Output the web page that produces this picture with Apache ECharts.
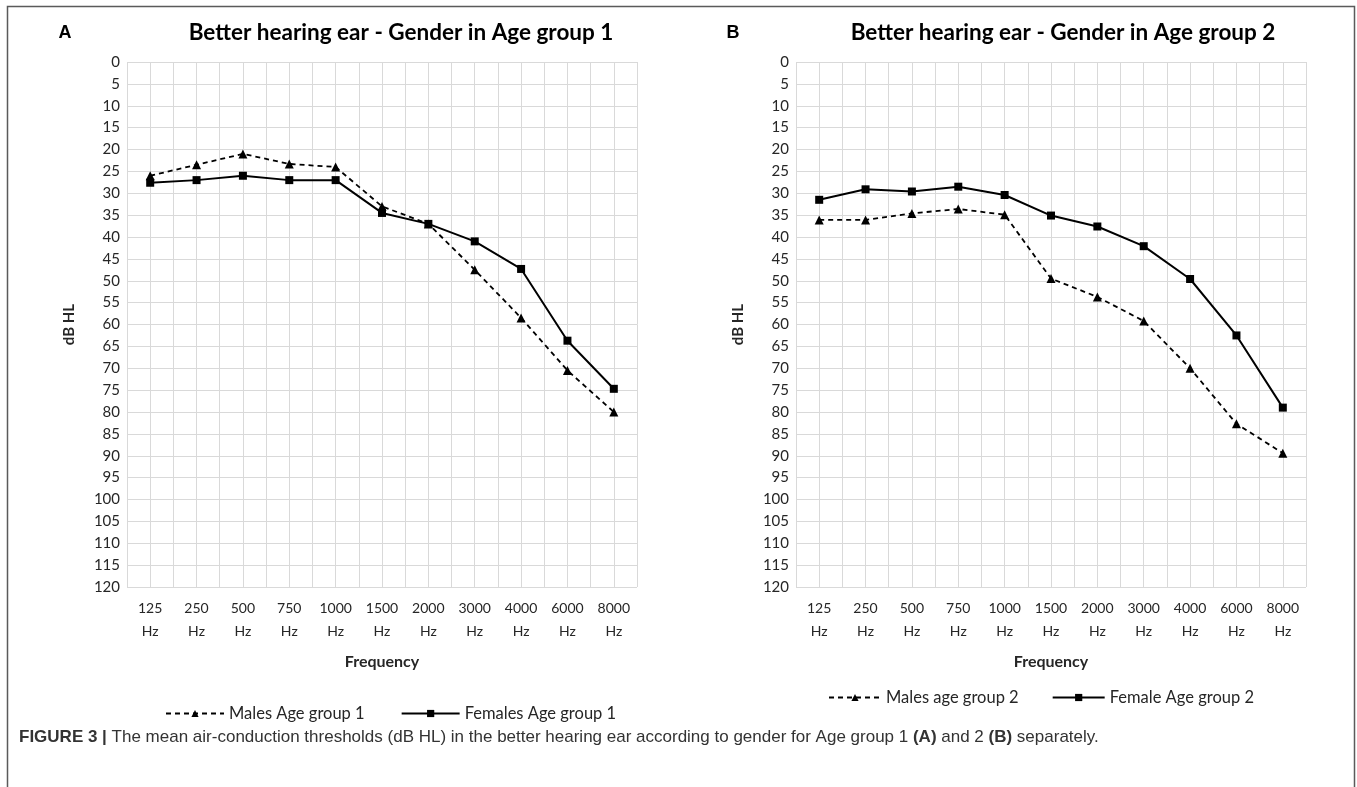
<!DOCTYPE html>
<html>
<head>
<meta charset="utf-8">
<script src="https://cdn.jsdelivr.net/npm/echarts@6/dist/echarts.min.js"></script>
<style>
  html, body { margin: 0; padding: 0; background: #ffffff; }
  #chart { width: 1357px; height: 787px; }
</style>
</head>
<body>
<div id="chart"></div>
<script>
// Audiometric frequencies (category axis)
const freqs = ['125', '250', '500', '750', '1000', '1500', '2000', '3000', '4000', '6000', '8000'];

// Mean air-conduction thresholds (dB HL), better hearing ear
const malesGroup1   = [26, 23.5, 21, 23.3, 24, 33, 37, 47.5, 58.5, 70.5, 80];
const femalesGroup1 = [27.6, 27, 26, 27, 27, 34.5, 37, 41, 47.3, 63.7, 74.7];
const malesGroup2   = [36.1, 36.1, 34.6, 33.6, 34.9, 49.5, 53.7, 59.2, 70, 82.7, 89.4];
const femalesGroup2 = [31.5, 29.1, 29.6, 28.5, 30.4, 35.1, 37.6, 42.1, 49.6, 62.5, 79];

// Series names
const names1 = ['Males Age group 1', 'Females Age group 1'];
const names2 = ['Males age group 2', 'Female Age group 2'];

// Panel titles
const titles = ['Better hearing ear - Gender in Age group 1', 'Better hearing ear - Gender in Age group 2'];

const FONT = 'Lato, "Open Sans", sans-serif';
const CAPTION_FONT = '"Liberation Sans", Arial, sans-serif';
const GRID_COLOR = '#d9d9d9';
const TEXT = '#262626';

const grids = [
  { left: 127, top: 62, width: 510, height: 525 },
  { left: 796, top: 62, width: 510, height: 525 }
];

function catAxis(gi) {
  return {
    type: 'category', gridIndex: gi, data: freqs, boundaryGap: true,
    axisLine: { show: false }, axisTick: { show: false }, splitLine: { show: false },
    axisLabel: {
      formatter: v => v + '\nHz', color: TEXT, fontFamily: FONT, fontSize: 14,
      lineHeight: 23, margin: 10, interval: 0
    },
    name: 'Frequency', nameLocation: 'middle', nameGap: 67,
    nameTextStyle: { fontFamily: FONT, fontWeight: 'bold', fontSize: 16, color: TEXT }
  };
}

// Helper axis that draws vertical grid lines at category edges and centres
function gridLineAxis(gi) {
  return {
    type: 'value', gridIndex: gi, min: 0, max: 22, interval: 1, position: 'top',
    axisLine: { show: false }, axisTick: { show: false }, axisLabel: { show: false },
    splitLine: { show: true, lineStyle: { color: GRID_COLOR, width: 1 } }
  };
}

function valAxis(gi) {
  return {
    type: 'value', gridIndex: gi, inverse: true, min: 0, max: 120, interval: 5,
    axisLine: { show: false }, axisTick: { show: false },
    axisLabel: { color: TEXT, fontFamily: FONT, fontSize: 15, margin: 7 },
    splitLine: { show: true, lineStyle: { color: GRID_COLOR, width: 1 } },
    name: 'dB HL', nameLocation: 'middle', nameRotate: 90, nameGap: 50,
    nameTextStyle: { fontFamily: FONT, fontWeight: 'bold', fontSize: 15, color: TEXT }
  };
}

function maleSeries(name, data, gi) {
  return {
    name, type: 'line', data, xAxisIndex: gi * 2, yAxisIndex: gi,
    symbol: 'triangle', symbolSize: 9, showAllSymbol: true,
    itemStyle: { color: '#000' },
    lineStyle: { color: '#000', width: 1.8, type: [5, 4] },
    z: 5
  };
}
function femaleSeries(name, data, gi) {
  return {
    name, type: 'line', data, xAxisIndex: gi * 2, yAxisIndex: gi,
    symbol: 'rect', symbolSize: 8, showAllSymbol: true,
    itemStyle: { color: '#000' },
    lineStyle: { color: '#000', width: 2, type: 'solid' },
    z: 6
  };
}

const legendText = { fontFamily: FONT, fontSize: 16.5, color: TEXT };

const option = {
  backgroundColor: '#ffffff',
  animation: false,
  grid: grids,
  xAxis: [catAxis(0), gridLineAxis(0), catAxis(1), gridLineAxis(1)],
  yAxis: [valAxis(0), valAxis(1)],
  legend: [
    { data: names1, left: 160, top: 700, itemWidth: 58, itemHeight: 9, itemGap: 36, textStyle: legendText },
    { data: names2, left: 823, top: 684, itemWidth: 52, itemHeight: 9, itemGap: 33, textStyle: legendText }
  ],
  series: [
    maleSeries(names1[0], malesGroup1, 0),
    femaleSeries(names1[1], femalesGroup1, 0),
    maleSeries(names2[0], malesGroup2, 1),
    femaleSeries(names2[1], femalesGroup2, 1)
  ],
  graphic: [
    // Figure frame
    { type: 'polyline', silent: true,
      shape: { points: [[7.5, 787], [7.5, 6.5], [1354.5, 6.5], [1354.5, 787]] },
      style: { stroke: '#5a5a5a', lineWidth: 1.5, fill: null } },
    // Panel letters
    { type: 'text', x: 65, y: 33, style: { text: 'A', font: 'bold 18px ' + CAPTION_FONT, fill: '#000', textAlign: 'center', textVerticalAlign: 'middle' } },
    { type: 'text', x: 733, y: 33, style: { text: 'B', font: 'bold 18px ' + CAPTION_FONT, fill: '#000', textAlign: 'center', textVerticalAlign: 'middle' } },
    // Panel titles
    { type: 'text', x: 401, y: 33, style: { text: titles[0], font: 'bold 22.5px ' + FONT, fill: '#000', textAlign: 'center', textVerticalAlign: 'middle' } },
    { type: 'text', x: 1063, y: 33, style: { text: titles[1], font: 'bold 22.5px ' + FONT, fill: '#000', textAlign: 'center', textVerticalAlign: 'middle' } },
    // Caption
    { type: 'text', x: 19, y: 737, style: {
        text: '{b|FIGURE 3 |} The mean air-conduction thresholds (dB HL) in the better hearing ear according to gender for Age group 1 {b|(A)} and 2 {b|(B)} separately.',
        font: '17px ' + CAPTION_FONT, fill: '#333', textVerticalAlign: 'middle',
        rich: { b: { fontWeight: 'bold', fontFamily: CAPTION_FONT, fontSize: 17, fill: '#333' } }
    } }
  ]
};

const chart = echarts.init(document.getElementById('chart'), null, { renderer: 'canvas' });
chart.setOption(option);
</script>
</body>
</html>
